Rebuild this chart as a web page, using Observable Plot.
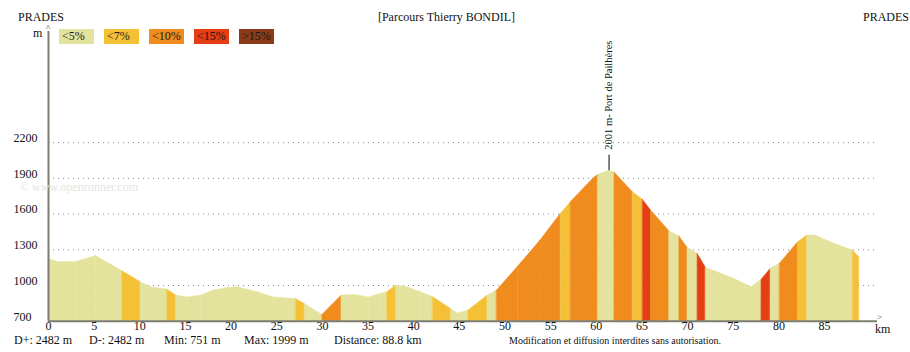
<!DOCTYPE html>
<html><head><meta charset="utf-8">
<script src="https://cdn.jsdelivr.net/npm/d3@7"></script>
<script src="https://cdn.jsdelivr.net/npm/@observablehq/plot@0.6"></script>
<style>
body{margin:0;background:#fff;}
#wrap{position:relative;width:910px;height:352px;font-family:"Liberation Serif","Times New Roman",serif;font-size:12px;color:#111;overflow:hidden}
#wrap svg{position:absolute;left:0;top:0}
.t{position:absolute;line-height:12px;white-space:nowrap}
.lg{position:absolute;top:29px;width:35px;height:15px;box-sizing:border-box;padding-left:3px;line-height:15px;font-size:12px;color:#1a1a1a}
</style></head><body><div id="wrap"></div>
<script>
// ---- data ----
const gradeClasses = ["<5%", "<7%", "<10%", "<15%", ">15%"];
const gradeColors = ["#e4e39d", "#f4c136", "#f08b1d", "#e53d14", "#8b3b17"];

// profile points (km, m) and grade class of the stretch that starts at each point
const km   = [0, 1, 3, 5.2, 8.1, 10.1, 11.2, 13, 14, 15.2, 16.7, 18.1, 19.7, 20.7, 22.9, 24.7, 27.1, 28.1, 30, 32.1, 33.5, 35.1, 36.4, 37.1, 38.1, 39.3, 40.8, 42.1, 44.1, 44.8, 46, 48.1, 49.1, 51.4, 53.9, 56.1, 57.2, 59.7, 60.2, 61.4, 62, 64, 65.1, 66, 68, 69.1, 70, 71.1, 72, 73.7, 75.1, 77, 78.1, 79.1, 80.1, 82.1, 83.1, 84, 86.1, 88.1, 88.8];
const elev = [1224, 1197, 1197, 1248, 1120, 1028, 986, 966, 915, 900, 915, 958, 980, 986, 943, 900, 887, 843, 753, 915, 922, 900, 930, 943, 1000, 986, 943, 903, 803, 765, 790, 915, 955, 1155, 1380, 1600, 1700, 1900, 1930, 1965, 1950, 1784, 1720, 1630, 1456, 1412, 1317, 1266, 1149, 1098, 1056, 986, 1048, 1140, 1182, 1364, 1420, 1420, 1350, 1294, 1238];
const grade = ["<5%", "<5%", "<5%", "<5%", "<7%", "<5%", "<5%", "<7%", "<5%", "<5%", "<5%", "<5%", "<5%", "<5%", "<5%", "<5%", "<7%", "<5%", "<10%", "<5%", "<5%", "<5%", "<5%", "<7%", "<5%", "<5%", "<5%", "<7%", "<5%", "<5%", "<7%", "<5%", "<10%", "<10%", "<10%", "<7%", "<10%", "<10%", "<5%", "<5%", "<10%", "<7%", "<15%", "<10%", "<5%", "<10%", "<5%", "<15%", "<5%", "<5%", "<5%", "<5%", "<15%", "<5%", "<10%", "<7%", "<5%", "<5%", "<5%", "<7%"];

const yTicks = [700, 1000, 1300, 1600, 1900, 2200];
const gridLevels = [1000, 1300, 1600, 1900, 2200];
const xTicks = [0, 5, 10, 15, 20, 25, 30, 35, 40, 45, 50, 55, 60, 65, 70, 75, 80, 85];

const peakKm = 61.4;
const peakElev = 1965;
const peakLabel = "2001 m- Port de Pailhères";

const title = "[Parcours Thierry BONDIL]";
const startName = "PRADES";
const endName = "PRADES";
const statTexts = ["D+: 2482 m", "D-: 2482 m", "Min: 751 m", "Max: 1999 m", "Distance: 88.8 km"];
const notice = "Modification et diffusion interdites sans autorisation.";
const watermark = "© www.openrunner.com";

// ---- layout (styles only) ----
const statLeft = [14, 89, 164, 244, 334];
const legendLeft = [59, 104, 149, 194, 239];

// ---- build ----
const segs = [];
for (let i = 0; i < km.length - 1; i++) {
  segs.push({km: km[i], elev: elev[i], seg: i, cls: grade[i]});
  segs.push({km: km[i + 1], elev: elev[i + 1], seg: i, cls: grade[i]});
}
const yMin = yTicks[0];
const peak = [{km: peakKm, elev: peakElev, label: peakLabel}];

const chart = Plot.plot({
  width: 910, height: 352,
  marginLeft: 48, marginRight: 33, marginTop: 31, marginBottom: 31.3,
  x: {domain: [0, 90.8], axis: null},
  y: {domain: [700, 3134], axis: null},
  color: {domain: gradeClasses, range: gradeColors},
  style: {fontFamily: "Liberation Serif", fontSize: "12px", background: "transparent", color: "#111"},
  marks: [
    Plot.ruleY(gridLevels, {stroke: "#8a8a8a", strokeDasharray: "1,4", strokeWidth: 1}),
    Plot.areaY(segs, {x: "km", y1: () => yMin, y2: "elev", z: "seg", fill: "cls", stroke: "cls", strokeWidth: 0.4}),
    Plot.ruleY([yMin], {stroke: "#7d7d72", strokeWidth: 2}),
    Plot.ruleX([0], {stroke: "#7d7d72", strokeWidth: 2}),
    Plot.text(yTicks, {y: d => d, text: d => String(d), frameAnchor: "left", textAnchor: "start", dx: -35, dy: -4.5, fill: "#111"}),
    Plot.text(xTicks, {x: d => d, text: d => String(d), frameAnchor: "bottom", lineAnchor: "top", dy: 0.5, fill: "#111"}),
    Plot.ruleX(peak, {x: "km", y1: "elev", y2: d => d.elev + 130, stroke: "#555", strokeWidth: 1.5}),
    Plot.text(peak, {x: "km", y: "elev", text: "label", rotate: -90, textAnchor: "start", dy: -21, fontSize: 10.5, fill: "#111"})
  ]
});

const wrap = document.getElementById("wrap");
wrap.appendChild(chart);

function addText(txt, css) {
  const d = document.createElement("div");
  d.className = "t";
  d.textContent = txt;
  Object.assign(d.style, css);
  wrap.appendChild(d);
  return d;
}
addText(startName, {left: "18px", top: "11px"});
addText(endName, {right: "1px", top: "11px"});
addText(title, {left: "0px", width: "893px", textAlign: "center", top: "11px"});
addText("m", {left: "33px", top: "27px"});
addText("^", {left: "46px", top: "24px", fontSize: "9px", lineHeight: "9px"});
addText(watermark, {left: "20px", top: "181px", color: "#e4e4e4"});
addText("km", {left: "875px", top: "323px"});
addText(">", {left: "877px", top: "313px", fontSize: "9px", lineHeight: "9px", color: "#444"});
statTexts.forEach((s, i) => addText(s, {left: statLeft[i] + "px", top: "334px"}));
addText(notice, {left: "509px", top: "335px", fontSize: "10px"});

gradeClasses.forEach((c, i) => {
  const d = document.createElement("div");
  d.className = "lg";
  d.textContent = c;
  d.style.left = legendLeft[i] + "px";
  d.style.background = gradeColors[i];
  wrap.appendChild(d);
});
</script></body></html>
